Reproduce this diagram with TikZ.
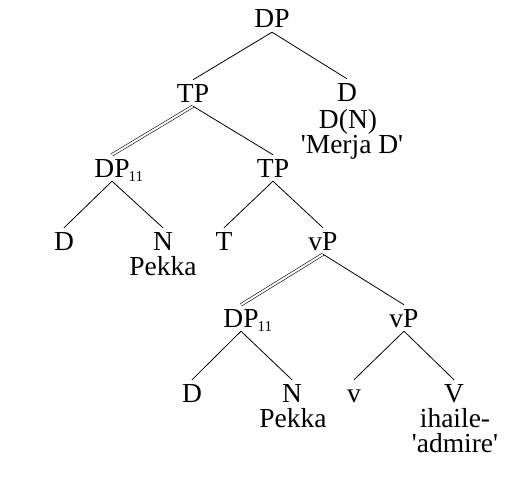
\documentclass[tikz,border=0pt]{standalone}
\usepackage{fontspec}
\setmainfont{Liberation Serif}
\newfontfamily\glossfont{Liberation Serif}
\usetikzlibrary{positioning}

\tikzset{
  cat/.style={anchor=base,inner xsep=0pt,inner ysep=4pt,text height=18pt,text depth=0pt},
  gloss/.style={anchor=base,inner sep=0pt,font=\glossfont\fontsize{27.5}{30}\selectfont},
  branch/.style={line width=0.8pt},
  copyline/.style={line width=0.6pt,double,double distance=2pt}
}
\newcommand{\idx}[1]{\rlap{\kern-1pt\raisebox{-4pt}{\fontsize{15}{15}\selectfont #1}}}

\begin{document}
\begin{tikzpicture}[x=1pt,y=-1pt,font=\fontsize{27.5}{30}\selectfont]
    \useasboundingbox (0,0) rectangle (510,495);

		\node[cat] (dp)   at (272,28)  {DP};
		\node[cat] (tp)   at (193,102) {TP};
		\node[cat] (d)    at (347,101) {D};
		\node[gloss] (dn)    at (348,128) {D(N)};
		\node[gloss] (merja) at (352,153) {'Merja D'};

		\node[cat] (dpa)  at (112,177) {DP\idx{11}};
		\node[cat] (tpb)  at (273,177) {TP};

		\node[cat] (da)   at (64,250)  {D};
		\node[cat] (na)   at (163,250) {N};
		\node[gloss] (pekkaa) at (163,275) {Pekka};
		\node[cat] (t)    at (224,250) {T};
		\node[cat] (vp)   at (323,250) {vP};

		\node[cat] (dpb)  at (241,327) {DP\idx{11}};
		\node[cat] (vpb)  at (404,327) {vP};

		\node[cat] (db)   at (192,402) {D};
		\node[cat] (nb)   at (292,402) {N};
		\node[gloss] (pekkab) at (293,427) {Pekka};
		\node[cat] (v)    at (354,402) {v};
		\node[cat] (vv)   at (454,402) {V};
		\node[gloss] (ihaile) at (455,427) {ihaile-};
		\node[gloss] (admire) at (455,452) {'admire'};

		\draw[branch] (dp.south) -- (tp.north);
		\draw[branch] (dp.south) -- (d.north);
		\draw[copyline] (tp.south) -- (dpa.north); %kopio
		\draw[branch] (tp.south) -- (tpb.north);
		\draw[branch] (dpa.south) -- (da.north);
		\draw[branch] (dpa.south) -- (na.north);
		\draw[branch] (tpb.south) -- (t.north);
		\draw[branch] (tpb.south) -- (vp.north);
		\draw[copyline] (vp.south) -- (dpb.north); %kopio
		\draw[branch] (vp.south) -- (vpb.north);
		\draw[branch] (dpb.south) -- (db.north);
		\draw[branch] (dpb.south) -- (nb.north);
		\draw[branch] (vpb.south) -- (v.north);
		\draw[branch] (vpb.south) -- (vv.north);
\end{tikzpicture}
\end{document}
